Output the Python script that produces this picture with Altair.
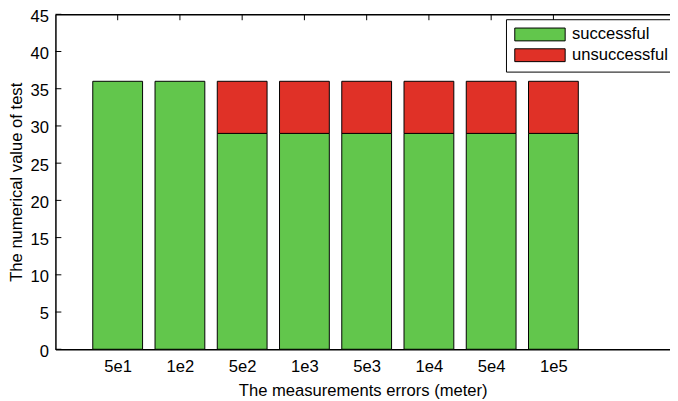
import altair as alt
import pandas as pd

# ---- data ----
categories = ["5e1", "1e2", "5e2", "1e3", "5e3", "1e4", "5e4", "1e5"]
successful = [36, 36, 29, 29, 29, 29, 29, 29]
unsuccessful = [0, 0, 7, 7, 7, 7, 7, 7]
series_names = ["successful", "unsuccessful"]
series_colors = ["#62c64c", "#e03127"]
y_ticks = [0, 5, 10, 15, 20, 25, 30, 35, 40, 45]
positions = list(range(1, len(categories) + 1))

rows = []
for i, cat in enumerate(categories):
    for k, (name, vals) in enumerate(zip(series_names, [successful, unsuccessful])):
        rows.append({"category": cat, "idx": positions[i], "series": name,
                     "order": k, "value": vals[i]})
df = pd.DataFrame(rows)

FONT = "Liberation Sans"
FS = 16.8
PX_PER_UNIT = 63.0
W = 622
H = 339
X_MAX = W / PX_PER_UNIT

xscale = alt.Scale(domain=[0, X_MAX], nice=False, zero=False)
yscale = alt.Scale(domain=[0, 45], nice=False, zero=True)

label_expr = "[''," + ",".join("'%s'" % c for c in categories) + "][datum.value]"

y_axis = alt.Axis(values=y_ticks, title="The numerical value of test",
                  labelPadding=7, labelOffset=2,
                  titleX=-34, titleBaseline="alphabetic")

bars = (
    alt.Chart(df)
    .transform_stack(stack="value", as_=["y0", "y1"], groupby=["idx"],
                     sort=[alt.SortField("order")])
    .transform_filter("datum.value > 0")
    .transform_calculate(xl="datum.idx - 0.4", xr="datum.idx + 0.4")
    .mark_bar(stroke="black", strokeWidth=1, cornerRadius=0)
    .encode(
        x=alt.X("xl:Q", scale=xscale,
                axis=alt.Axis(orient="bottom", values=positions, labelExpr=label_expr,
                              title="The measurements errors (meter)",
                              labelPadding=9.5, titleY=46.5, titleBaseline="alphabetic",
                              titleAnchor="middle")),
        x2="xr:Q",
        y=alt.Y("y0:Q", scale=yscale, axis=y_axis),
        y2="y1:Q",
        color=alt.Color("series:N",
                        scale=alt.Scale(domain=series_names, range=series_colors),
                        legend=alt.Legend(
                            title=None, orient="none", legendX=456, legendY=5,
                            direction="vertical",
                            symbolType="M-1,-1L6.846,-1L6.846,1L-1,1Z",
                            symbolSize=169, symbolStrokeColor="black",
                            symbolStrokeWidth=1, symbolOpacity=1,
                            labelFont=FONT, labelFontSize=FS, labelColor="black",
                            labelOffset=43, padding=7, rowPadding=2,
                            strokeColor="black", fillColor="white", cornerRadius=0)),
    )
)

top_ticks = (
    alt.Chart(pd.DataFrame({"idx": positions}))
    .mark_rule(color="black", strokeWidth=1)
    .encode(
        x=alt.X("idx:Q", scale=xscale,
                axis=alt.Axis(orient="top", labels=False, ticks=False, title=None,
                              domain=True)),
        y=alt.value(0),
        y2=alt.value(6),
    )
)

left_ticks = (
    alt.Chart(pd.DataFrame({"y0": y_ticks}))
    .mark_rule(color="black", strokeWidth=1)
    .encode(
        y=alt.Y("y0:Q", scale=yscale, axis=y_axis),
        x=alt.value(0),
        x2=alt.value(6),
    )
)

chart = (
    alt.layer(bars, top_ticks, left_ticks)
    .resolve_axis(x="independent")
    .properties(width=W, height=H,
                padding={"left": 48, "top": 4, "right": 0, "bottom": 50},
                autosize=alt.AutoSizeParams(type="none"))
    .configure_view(stroke=None)
    .configure_axis(domainColor="black", domainWidth=1.5, grid=False, ticks=False,
                    tickSize=0, labelFont=FONT, labelFontSize=FS, labelColor="black",
                    titleFont=FONT, titleFontSize=FS, titleColor="black",
                    titleFontWeight="normal")
)

chart.save("out.html", embed_options={"renderer": "svg", "actions": False})
